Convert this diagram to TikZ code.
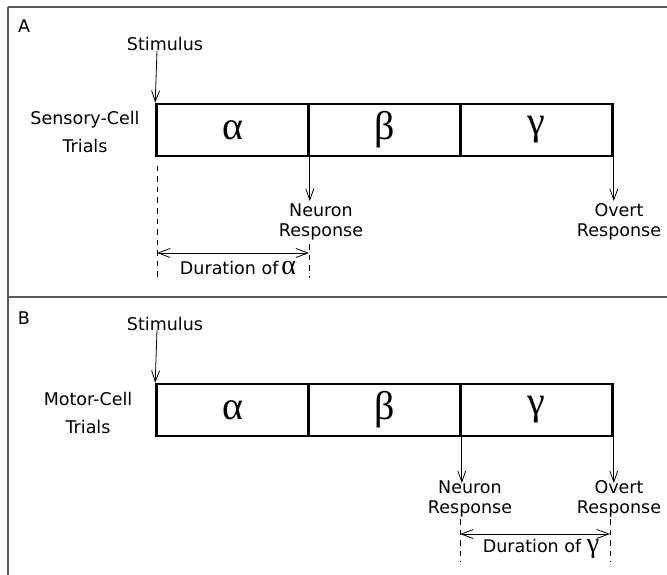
\documentclass[tikz,border=0pt]{standalone}
\usepackage{fontspec}
\setmainfont{DejaVu Sans}
\newfontfamily\greekfont{Liberation Serif}
\usetikzlibrary{arrows.meta}
\tikzset{
  frameline/.style={draw=black!65, line width=1.6pt},
  cell/.style={draw=black, line width=2.6pt, minimum width=152pt, minimum height=52pt,
    inner sep=0pt, font=\greekfont\fontsize{40}{40}\selectfont},
  lbl/.style={font=\fontsize{17.5}{20}\selectfont, align=center, inner sep=0pt},
  trial/.style={font=\fontsize{17.5}{28}\selectfont, align=center, inner sep=0pt},
  evt/.style={draw=black, line width=0.8pt, -{Straight Barb[length=11pt,width=8pt]}},
  span/.style={draw=black, line width=0.8pt, {Straight Barb[length=12pt,width=9pt]}-{Straight Barb[length=12pt,width=9pt]}},
  guide/.style={draw=black, line width=0.8pt, dash pattern=on 5.5pt off 5pt},
}
\newcommand{\gk}[1]{{\greekfont\fontsize{28}{28}\selectfont #1}}
\begin{document}
\begin{tikzpicture}[x=1pt, y=-1pt]
\useasboundingbox (0,0) rectangle (667,575);

% panel frame
\draw[frameline] (8,7) -- (667,7);
\draw[frameline] (8,297) -- (667,297);
\draw[frameline] (8,7) -- (8,575);

% ---------- panel A: sensory-cell trials ----------
\node[lbl] (pa) at (24,26) {A};
\node[cell] (a1) at (232.5,130) {α};
\node[cell] (a2) at (384.5,130) {β};
\node[cell] (a3) at (536.5,130) {γ};
\node[lbl] (sa) at (165,44) {Stimulus};
\node[trial] (ta) at (85,132) {Sensory-Cell\\Trials};
\coordinate (sta) at (157,51);
\draw[evt] (sta) -- (a1.north west);

\coordinate (nra) at (a1.south east |- 0,201);
\draw[evt] (a1.south east) -- (nra);
\node[lbl] (nta) at (321,222) {Neuron\\Response};
\coordinate (ora) at (a3.south east |- 0,201);
\draw[evt] (a3.south east) -- (ora);
\node[lbl] (ota) at (619,222) {Overt\\Response};

\coordinate (ga1) at (157,166);
\coordinate (ga2) at (157,278);
\coordinate (gb1) at (309,244);
\coordinate (gb2) at (309,278);
\draw[guide] (ga1) -- (ga2);
\draw[guide] (gb1) -- (gb2);
\coordinate (da1) at (157,253);
\coordinate (da2) at (309,253);
\draw[span] (da1) -- (da2);
\node[lbl] (dta) at (238,268) {Duration of\,\gk{α}};

% ---------- panel B: motor-cell trials ----------
\node[lbl] (pb) at (24,318) {B};
\node[cell] (b1) at (232.5,410) {α};
\node[cell] (b2) at (384.5,410) {β};
\node[cell] (b3) at (536.5,410) {γ};
\node[lbl] (sb) at (165,324) {Stimulus};
\node[trial] (tb) at (88,413) {Motor-Cell\\Trials};
\coordinate (stb) at (157,330);
\draw[evt] (stb) -- (b1.north west);

\coordinate (nrb) at (b2.south east |- 0,483);
\draw[evt] (b2.south east) -- (nrb);
\node[lbl] (ntb) at (470,499) {Neuron\\Response};
\coordinate (orb) at (b3.south east |- 0,483);
\draw[evt] (b3.south east) -- (orb);
\node[lbl] (otb) at (619,499) {Overt\\Response};

\coordinate (gc1) at (460,519);
\coordinate (gc2) at (460,562);
\coordinate (gd1) at (610,519);
\coordinate (gd2) at (610,562);
\draw[guide] (gc1) -- (gc2);
\draw[guide] (gd1) -- (gd2);
\coordinate (db1) at (460,534);
\coordinate (db2) at (610,534);
\draw[span] (db1) -- (db2);
\node[lbl] (dtb) at (541,549) {Duration of \gk{γ}};
\end{tikzpicture}
\end{document}
